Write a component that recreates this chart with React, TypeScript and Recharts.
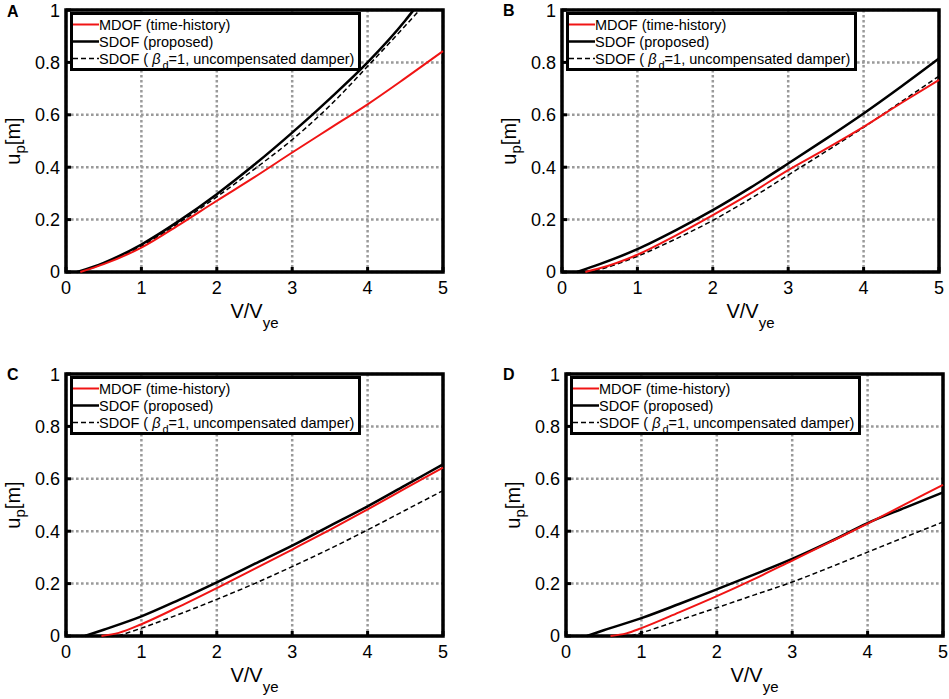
import React from 'react';
import { CartesianGrid, Legend, Line, LineChart, ReferenceArea, XAxis, YAxis } from 'recharts';

type Pt = [number, number];

const X_TICKS = [0, 1, 2, 3, 4, 5];
const Y_TICKS = [0, 0.2, 0.4, 0.6, 0.8, 1];
const SERIES = ['MDOF (time-history)', 'SDOF (proposed)', 'SDOF (βd=1, uncompensated damper)'];

// [V/Vye, up]
const A_MDOF: Pt[] = [[0.19, 0], [0.5, 0.03], [1, 0.093], [1.5, 0.18], [2, 0.272], [2.5, 0.362], [3, 0.456], [3.5, 0.548], [4, 0.64], [4.5, 0.74], [5, 0.843]];
const A_SDOF: Pt[] = [[0.15, 0], [0.5, 0.035], [1, 0.105], [1.5, 0.195], [2, 0.297], [2.5, 0.41], [3, 0.532], [3.5, 0.662], [4, 0.8], [4.5, 0.96], [4.61, 1]];
const A_UNCOMP: Pt[] = [[0.2, 0], [0.5, 0.032], [1, 0.098], [1.5, 0.188], [2, 0.287], [2.5, 0.393], [3, 0.505], [3.5, 0.635], [4, 0.785], [4.5, 0.94], [4.69, 1]];

const B_MDOF: Pt[] = [[0.31, 0], [0.5, 0.014], [1, 0.066], [1.5, 0.138], [2, 0.217], [2.5, 0.3], [3, 0.389], [3.5, 0.47], [4, 0.554], [4.5, 0.645], [5, 0.733]];
const B_SDOF: Pt[] = [[0.2, 0], [0.5, 0.03], [1, 0.087], [1.5, 0.158], [2, 0.236], [2.5, 0.322], [3, 0.414], [3.5, 0.508], [4, 0.605], [4.5, 0.708], [5, 0.815]];
const B_UNCOMP: Pt[] = [[0.33, 0], [0.5, 0.01], [1, 0.06], [1.5, 0.125], [2, 0.197], [2.5, 0.28], [3, 0.37], [3.5, 0.46], [4, 0.552], [4.5, 0.65], [5, 0.748]];

const C_MDOF: Pt[] = [[0.47, 0], [0.7, 0.012], [1, 0.045], [1.5, 0.112], [2, 0.183], [2.5, 0.256], [3, 0.33], [3.5, 0.405], [4, 0.483], [4.5, 0.563], [5, 0.643]];
const C_SDOF: Pt[] = [[0.25, 0], [0.5, 0.024], [1, 0.075], [1.5, 0.138], [2, 0.205], [2.5, 0.275], [3, 0.345], [3.5, 0.42], [4, 0.495], [4.5, 0.575], [5, 0.655]];
const C_UNCOMP: Pt[] = [[0.69, 0], [1, 0.03], [1.5, 0.083], [2, 0.14], [2.5, 0.2], [3, 0.265], [3.5, 0.333], [4, 0.405], [4.5, 0.48], [5, 0.555]];

const D_MDOF: Pt[] = [[0.59, 0], [0.8, 0.01], [1, 0.03], [1.5, 0.09], [2, 0.152], [2.5, 0.218], [3, 0.288], [3.5, 0.358], [4, 0.429], [4.5, 0.503], [5, 0.577]];
const D_SDOF: Pt[] = [[0.28, 0], [0.5, 0.022], [1, 0.068], [1.5, 0.122], [2, 0.178], [2.5, 0.235], [3, 0.294], [3.5, 0.36], [4, 0.431], [4.5, 0.49], [5, 0.548]];
const D_UNCOMP: Pt[] = [[0.86, 0], [1, 0.012], [1.5, 0.06], [2, 0.108], [2.5, 0.157], [3, 0.206], [3.5, 0.262], [4, 0.32], [4.5, 0.378], [5, 0.435]];

const FONT = '"Liberation Sans", Arial, sans-serif';
const RED = '#f01414';

const rows = (pts: Pt[]) => pts.map(([v, u]) => ({ v, u }));

function XLabel({ viewBox }: any) {
  const cx = viewBox.x + viewBox.width / 2;
  const by = viewBox.y + 46;
  return (
    <text x={cx} y={by} textAnchor="middle" fontSize={20} fill="#000" fontFamily={FONT}>
      V/V<tspan fontSize={15} dy={10}>ye</tspan>
    </text>
  );
}

function YLabel({ viewBox }: any) {
  const cx = viewBox.x + 14;
  const cy = viewBox.y + viewBox.height / 2;
  return (
    <text x={cx} y={cy} transform={`rotate(-90 ${cx} ${cy})`} textAnchor="middle" fontSize={20} fill="#000" fontFamily={FONT}>
      u<tspan fontSize={15} dy={5}>p</tspan><tspan dy={-5}>[m]</tspan>
    </text>
  );
}

function Sample({ color, width, dash }: { color: string; width: number; dash?: string }) {
  return (
    <svg width={26} height={17} style={{ display: 'block', flex: 'none' }}>
      <line x1={0} y1={8.5} x2={26} y2={8.5} stroke={color} strokeWidth={width} strokeDasharray={dash} />
    </svg>
  );
}

function LegendBox() {
  const row = { display: 'flex', alignItems: 'center', height: 17, whiteSpace: 'nowrap' } as const;
  return (
    <div
      style={{
        width: 291,
        height: 59,
        boxSizing: 'border-box',
        border: '3px solid #000',
        background: '#fff',
        fontFamily: FONT,
        fontSize: 14.5,
        color: '#000',
        paddingTop: 1,
      }}
    >
      <div style={row}>
        <Sample color={RED} width={2} />
        <span>{SERIES[0]}</span>
      </div>
      <div style={row}>
        <Sample color="#000" width={2.5} />
        <span>{SERIES[1]}</span>
      </div>
      <div style={row}>
        <Sample color="#000" width={1.5} dash="5 3" />
        <span>
          SDOF ( <i>β</i>
          <span style={{ fontSize: 11, position: 'relative', top: 5, marginLeft: 2 }}>d</span>
          =1, uncompensated damper)
        </span>
      </div>
    </div>
  );
}

function Panel({
  plotX,
  plotY,
  mdof,
  sdof,
  uncomp,
}: {
  plotX: number;
  plotY: number;
  mdof: Pt[];
  sdof: Pt[];
  uncomp: Pt[];
}) {
  const tickLine = { stroke: '#000', strokeWidth: 3 };
  return (
    <div style={{ position: 'absolute', left: plotX - 66, top: plotY - 10 }}>
      <LineChart width={453} height={332} margin={{ top: 10, right: 10, bottom: 0, left: 6 }}>
        <CartesianGrid stroke="#9a9a9a" strokeWidth={2.5} strokeDasharray="2.6 2.4" />
        <XAxis
          type="number"
          dataKey="v"
          domain={[0, 5]}
          ticks={X_TICKS}
          height={60}
          axisLine={false}
          tickSize={-5}
          tickMargin={14}
          tickLine={tickLine}
          tick={{ fontSize: 18, fill: '#000', fontFamily: FONT }}
          label={<XLabel />}
        />
        <XAxis xAxisId="top" orientation="top" type="number" domain={[0, 5]} ticks={X_TICKS} height={0} axisLine={false} tickSize={-5} tickLine={tickLine} tick={false} />
        <YAxis
          type="number"
          domain={[0, 1]}
          ticks={Y_TICKS}
          width={60}
          axisLine={false}
          tickSize={-5}
          tickMargin={11}
          tickLine={tickLine}
          tick={{ fontSize: 18, fill: '#000', fontFamily: FONT }}
          label={<YLabel />}
        />
        <YAxis yAxisId="right" orientation="right" type="number" domain={[0, 1]} ticks={Y_TICKS} width={0} axisLine={false} tickSize={-5} tickLine={tickLine} tick={false} />
        <Line data={rows(uncomp)} dataKey="u" type="monotone" stroke="#000" strokeWidth={1.5} strokeDasharray="5 3" dot={false} isAnimationActive={false} />
        <Line data={rows(sdof)} dataKey="u" type="monotone" stroke="#000" strokeWidth={2.5} dot={false} isAnimationActive={false} />
        <Line data={rows(mdof)} dataKey="u" type="monotone" stroke={RED} strokeWidth={2} dot={false} isAnimationActive={false} />
        <ReferenceArea x1={0} x2={5} y1={0} y2={1} fill="none" stroke="#000" strokeWidth={3.5} />
        <Legend
          layout="vertical"
          align="center"
          verticalAlign="middle"
          wrapperStyle={{ left: 70, top: 12, width: 291, height: 59 }}
          content={() => <LegendBox />}
        />
      </LineChart>
    </div>
  );
}

const letterStyle = (left: number, top: number) =>
  ({ position: 'absolute', left, top, fontFamily: FONT, fontWeight: 'bold', fontSize: 16, lineHeight: 1 }) as const;

export default function App() {
  return (
    <div style={{ position: 'absolute', left: 0, top: 0, width: 949, height: 699, background: '#fff', overflow: 'hidden' }}>
      <div style={letterStyle(7, 4)}>A</div>
      <div style={letterStyle(503, 3)}>B</div>
      <div style={letterStyle(7, 367)}>C</div>
      <div style={letterStyle(503, 367)}>D</div>
      <Panel plotX={66} plotY={10} mdof={A_MDOF} sdof={A_SDOF} uncomp={A_UNCOMP} />
      <Panel plotX={562} plotY={10} mdof={B_MDOF} sdof={B_SDOF} uncomp={B_UNCOMP} />
      <Panel plotX={66} plotY={374} mdof={C_MDOF} sdof={C_SDOF} uncomp={C_UNCOMP} />
      <Panel plotX={566} plotY={374} mdof={D_MDOF} sdof={D_SDOF} uncomp={D_UNCOMP} />
    </div>
  );
}
